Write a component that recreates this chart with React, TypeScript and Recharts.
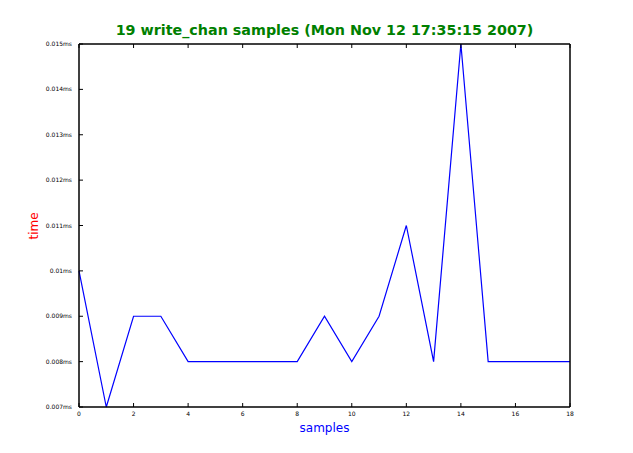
import { Line, LineChart, XAxis, YAxis } from 'recharts'

const sampleIdx = [0, 1, 2, 3, 4, 5, 6, 7, 8, 9, 10, 11, 12, 13, 14, 15, 16, 17, 18]
const timeMs = [
  0.01, 0.007, 0.009, 0.009, 0.008, 0.008, 0.008, 0.008, 0.008, 0.009, 0.008, 0.009, 0.011,
  0.008, 0.015, 0.008, 0.008, 0.008, 0.008,
]
const xTicks = [0, 2, 4, 6, 8, 10, 12, 14, 16, 18]
const yTicks = [0.007, 0.008, 0.009, 0.01, 0.011, 0.012, 0.013, 0.014, 0.015]

const data = sampleIdx.map((s, i) => ({ s, t: timeMs[i] }))

const FONT = '"DejaVu Sans", sans-serif'
const fmtY = (v: number) => `${+v.toFixed(3)}ms`

// ticks drawn inward, matplotlib style
function BottomTick({ x, y, payload }: any) {
  return (
    <g>
      <line x1={x} y1={y} x2={x} y2={y - 4} stroke="#000" />
      <text x={x} y={y + 9} textAnchor="middle" fontSize={6} fontFamily={FONT} fill="#000">
        {payload.value}
      </text>
    </g>
  )
}

function TopTick({ x, y }: any) {
  return <line x1={x} y1={y} x2={x} y2={y + 4} stroke="#000" />
}

function LeftTick({ x, y, payload }: any) {
  return (
    <g>
      <line x1={x} y1={y} x2={x + 4} y2={y} stroke="#000" />
      <text x={x - 7} y={y + 2} textAnchor="end" fontSize={6} fontFamily={FONT} fill="#000">
        {fmtY(payload.value)}
      </text>
    </g>
  )
}

function RightTick({ x, y }: any) {
  return <line x1={x} y1={y} x2={x - 4} y2={y} stroke="#000" />
}

const axisLine = { stroke: '#000', strokeWidth: 1.5 }

export default function App() {
  return (
    <div style={{ position: 'absolute', left: 0, top: 0, width: 633, height: 453, background: '#fff' }}>
      <svg width={633} height={453} style={{ position: 'absolute', left: 0, top: 0 }}>
        <text x={324.5} y={35} textAnchor="middle" fontSize={14.3} fontWeight="bold" fontFamily={FONT} fill="#008000">
          19 write_chan samples (Mon Nov 12 17:35:15 2007)
        </text>
        <text x={324.5} y={432} textAnchor="middle" fontSize={12} fontFamily={FONT} fill="#0000ff">
          samples
        </text>
        <text
          x={38}
          y={226}
          textAnchor="middle"
          fontSize={12}
          fontFamily={FONT}
          fill="#ff0000"
          transform="rotate(-90 38 226)"
        >
          time
        </text>
      </svg>
      <div style={{ position: 'absolute', left: 0, top: 0 }}>
        <LineChart width={633} height={453} data={data} margin={{ top: 43, right: 62, bottom: 26, left: 39 }}>
          <XAxis
            dataKey="s"
            type="number"
            domain={[0, 18]}
            ticks={xTicks}
            xAxisId="b"
            height={20}
            tickSize={0}
            tickMargin={0}
            tickLine={false}
            axisLine={axisLine}
            tick={<BottomTick />}
          />
          <XAxis
            dataKey="s"
            type="number"
            domain={[0, 18]}
            ticks={xTicks}
            xAxisId="t"
            orientation="top"
            height={1}
            tickSize={0}
            tickMargin={0}
            tickLine={false}
            axisLine={axisLine}
            tick={<TopTick />}
          />
          <YAxis
            type="number"
            domain={[0.007, 0.015]}
            ticks={yTicks}
            yAxisId="l"
            width={40}
            tickSize={0}
            tickMargin={0}
            tickLine={false}
            axisLine={axisLine}
            tick={<LeftTick />}
          />
          <YAxis
            type="number"
            domain={[0.007, 0.015]}
            ticks={yTicks}
            yAxisId="r"
            orientation="right"
            width={1}
            tickSize={0}
            tickMargin={0}
            tickLine={false}
            axisLine={axisLine}
            tick={<RightTick />}
          />
          <Line
            xAxisId="b"
            yAxisId="l"
            dataKey="t"
            type="linear"
            stroke="#0000ff"
            strokeWidth={1.2}
            dot={false}
            isAnimationActive={false}
          />
        </LineChart>
      </div>
    </div>
  )
}
